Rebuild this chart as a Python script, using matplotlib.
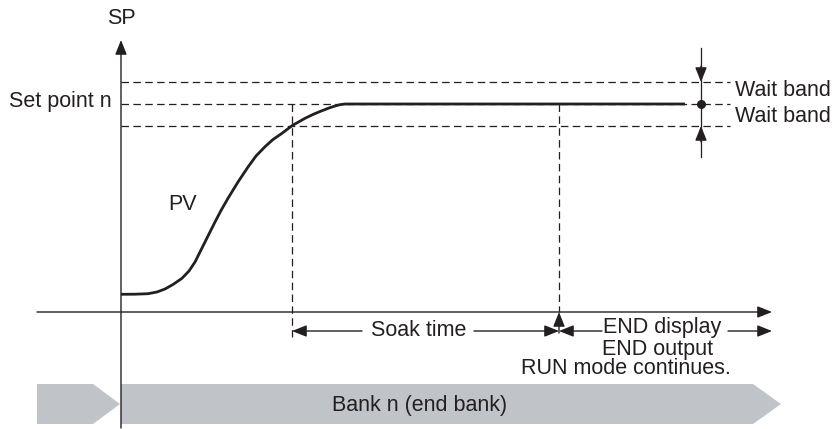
import matplotlib.pyplot as plt
from matplotlib.patches import Polygon

plt.rcParams["font.family"] = ["Liberation Sans", "DejaVu Sans"]

# all positions in image pixels (y grows downward)
W, H = 840, 429
INK = "#231f20"
BAND = "#c0c3c8"
FS = 15.5

# PV curve
PV_X = [121, 135, 148, 157, 165, 173, 182, 189, 195, 200, 205, 210, 215,
        221, 228, 238, 248, 256, 265, 273, 282, 292, 305, 314, 322, 329,
        335, 340, 345, 685]
PV_Y = [294.3, 294.2, 293.7, 292, 289, 284.5, 278.3, 271, 262, 252, 242, 232, 222,
        210.5, 198.3, 182, 167, 156, 146.7, 139.5, 133.3, 125.7, 118.3, 114, 110.7, 108,
        106, 104.7, 104, 104]

# levels
SP_Y = 104
BAND_HI = 82
BAND_LO = 126
AXIS_X = 121
AXIS_Y = 312
SOAK_START = 292
SOAK_END = 559
BAND_MARK_X = 701


def arrow(ax, tail, tip, lw=1.0):
    ax.annotate("", xy=tip, xytext=tail,
                arrowprops=dict(arrowstyle="-|>,head_length=0.55,head_width=0.22",
                                color=INK, lw=lw, shrinkA=0, shrinkB=0,
                                mutation_scale=16))


fig = plt.figure(figsize=(W / 100, H / 100), dpi=100)
ax = fig.add_axes([0, 0, 1, 1])
ax.set_xlim(0, W)
ax.set_ylim(H, 0)
ax.axis("off")

# bank band
ax.add_patch(Polygon([(37, 384), (93, 384), (120, 404), (93, 424), (37, 424)],
                     closed=True, color=BAND, lw=0))
ax.add_patch(Polygon([(121, 384), (753, 384), (781, 404), (753, 424), (121, 424)],
                     closed=True, color=BAND, lw=0))
ax.text(420, 405, "Bank n (end bank)", ha="center", va="center", fontsize=FS, color=INK)

# axes
arrow(ax, (AXIS_X, 428), (AXIS_X, 40))
arrow(ax, (37, AXIS_Y), (772, AXIS_Y))
ax.text(AXIS_X, 19, "SP", ha="center", va="center", fontsize=FS, color=INK)

# dashed band lines
dash = dict(color=INK, lw=0.9, dashes=(6, 3.5))
for yy in (BAND_HI, SP_Y, BAND_LO):
    ax.plot([AXIS_X, 730], [yy, yy], **dash)
ax.plot([SOAK_START, SOAK_START], [SP_Y, 337], **dash)
ax.plot([SOAK_END, SOAK_END], [SP_Y, AXIS_Y], **dash)

# PV curve
ax.plot(PV_X, PV_Y, color=INK, lw=2.0, solid_capstyle="butt", solid_joinstyle="round")
ax.text(183, 205, "PV", ha="center", va="center", fontsize=FS, color=INK)
ax.text(112, 102, "Set point n", ha="right", va="center", fontsize=FS, color=INK)

# wait band marker
ax.plot([BAND_MARK_X, BAND_MARK_X], [48, 157], color=INK, lw=0.9)
arrow(ax, (BAND_MARK_X, 66), (BAND_MARK_X, BAND_HI))
arrow(ax, (BAND_MARK_X, 142), (BAND_MARK_X, BAND_LO))
ax.plot(BAND_MARK_X, SP_Y, "o", color=INK, ms=5.5)
ax.text(735, 91, "Wait band", ha="left", va="center", fontsize=FS, color=INK)
ax.text(735, 116, "Wait band", ha="left", va="center", fontsize=FS, color=INK)

# soak time
arrow(ax, (362, 331), (SOAK_START, 331))
arrow(ax, (474, 331), (SOAK_END, 331))
ax.text(419, 330, "Soak time", ha="center", va="center", fontsize=FS, color=INK)
arrow(ax, (SOAK_END, 333), (SOAK_END, AXIS_Y))

# end display
arrow(ax, (602, 331), (SOAK_END, 331))
arrow(ax, (728, 331), (772, 331))
ax.text(662, 327, "END display", ha="center", va="center", fontsize=FS, color=INK)
ax.text(658, 350, "END output", ha="center", va="center", fontsize=FS, color=INK)
ax.text(626, 369, "RUN mode continues.", ha="center", va="center", fontsize=FS, color=INK)

fig.savefig("out.png", dpi=100)
